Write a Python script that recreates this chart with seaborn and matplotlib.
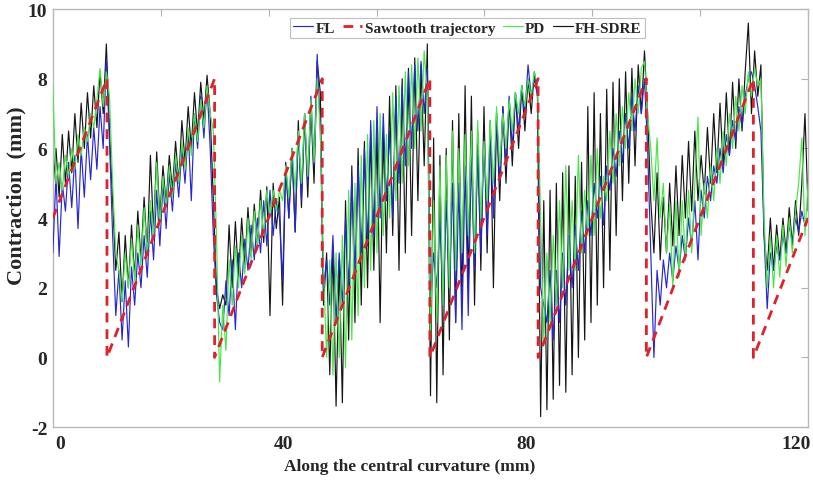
import numpy as np
import pandas as pd
import matplotlib
matplotlib.use('Agg')
import matplotlib.pyplot as plt
import seaborn as sns

# samples every 0.5 mm along the central curvature, 0 .. 120 mm
step = 0.5

# FL controller (blue)
fl = [3.0, 5.2, 2.9, 5.0, 4.2, 5.6, 4.3, 5.8, 3.7, 6.0, 4.6, 6.4, 5.1, 6.6, 5.4, 7.2, 6.0, 8.6, 6.2, 3.5,
      1.2, 2.5, 0.5, 2.2, 0.3, 2.6, 1.5, 3.0, 2.0, 3.5, 2.3, 4.2, 2.8, 4.8, 3.2, 5.0, 3.7, 5.3, 4.2, 5.6,
      4.6, 6.0, 5.0, 6.5, 4.5, 7.0, 6.0, 7.5, 6.3, 7.8, 6.0, 3.5, 1.8, 1.0, 0.8, 2.2, 1.2, 2.8, 0.8, 3.0,
      2.0, 3.4, 2.5, 3.8, 2.8, 4.0, 3.0, 4.5, 3.2, 4.8, 3.5, 4.5, 4.0, 2.2, 5.5, 4.0, 6.0, 3.6, 6.5, 4.5,
      7.0, 5.0, 7.5, 5.5, 8.7, 6.5, 2.0, 2.8, 1.5, 3.5, 1.0, 3.0, 1.5, 4.0, 2.0, 5.2, 2.5, 5.5, 3.0, 6.0,
      3.2, 6.8, 3.5, 7.2, 4.0, 7.0, 4.5, 6.5, 4.0, 7.5, 5.0, 7.8, 5.5, 8.2, 6.0, 8.4, 6.5, 8.5, 7.0, 8.3,
      1.5, 3.0, 2.0, 4.0, 1.5, 4.5, 2.0, 5.0, 1.0, 5.0, 0.8, 5.5, 1.2, 5.8, 2.5, 6.0, 3.0, 6.2, 3.5, 6.5,
      4.0, 7.0, 5.0, 7.2, 5.5, 7.5, 6.0, 7.6, 6.5, 7.8, 7.0, 8.4, 7.5, 8.0, 7.5, 2.0, 1.5, 1.0, 2.5, 0.5,
      2.5, 1.0, 3.0, 1.5, 3.5, 2.0, 3.8, 2.5, 4.2, 3.0, 4.5, 3.5, 5.0, 4.0, 5.2, 3.8, 5.5, 4.8, 6.0, 5.2,
      6.5, 5.6, 7.0, 6.0, 7.5, 6.5, 7.8, 7.0, 8.0, 6.0, 3.0, 0.0, 2.5, 1.5, 2.8, 2.0, 3.0, 2.2, 3.2, 2.5,
      3.5, 2.8, 4.0, 3.2, 4.5, 2.8, 4.8, 4.0, 5.2, 4.5, 5.5, 5.0, 6.0, 5.3, 6.4, 5.8, 6.8, 6.2, 7.2, 6.6,
      7.5, 8.0, 8.2, 7.8, 7.2, 6.5, 3.5, 1.4, 3.0, 2.5, 3.2, 2.8, 3.5, 3.0, 3.8, 3.3, 4.0, 3.6, 4.2, 3.8,
      4.0]

# PD controller (green)
pd_ctrl = [7.8, 5.0, 5.6, 4.8, 5.8, 5.2, 6.0, 5.4, 6.4, 5.8, 6.6, 6.2, 7.0, 6.6, 7.4, 8.3, 7.2, 8.2, 7.5, 5.0,
           3.0, 2.5, 1.6, 3.0, 2.0, 3.4, 2.2, 3.8, 2.6, 4.3, 3.0, 4.5, 3.5, 5.6, 3.8, 5.2, 4.3, 5.5, 4.6, 5.8,
           5.0, 6.2, 5.4, 6.6, 5.8, 7.0, 6.2, 7.4, 6.6, 7.8, 7.0, 6.5, 3.5, -0.7, 1.5, 0.2, 2.8, 1.5, 3.2, 2.0,
           3.5, 2.4, 4.0, 2.8, 4.2, 3.2, 4.5, 3.5, 4.8, 4.0, 4.8, 4.2, 4.8, 4.5, 5.5, 4.6, 6.0, 4.8, 6.5, 5.0,
           7.0, 5.2, 7.4, 5.6, 8.0, 6.5, 2.5, 0.0, 2.8, -0.5, 3.0, 0.0, 3.5, -0.3, 4.8, 0.5, 5.0, 1.2, 5.8, 2.0,
           6.4, 2.5, 6.8, 3.0, 7.0, 3.5, 6.4, 4.0, 7.6, 4.5, 7.8, 5.0, 8.2, 5.5, 8.4, 6.0, 8.6, 6.5, 8.8, 7.5,
           0.5, 4.5, 1.0, 5.5, 1.5, 5.8, 2.0, 6.5, 2.5, 6.0, 3.0, 6.4, 3.5, 6.5, 3.0, 6.8, 4.0, 6.2, 4.5, 6.8,
           5.0, 7.2, 5.5, 7.0, 6.0, 7.4, 6.5, 7.6, 7.0, 7.8, 7.2, 8.0, 7.5, 8.2, 7.8, 4.0, 0.5, 3.0, 1.0, 3.5,
           1.5, 4.5, 2.0, 5.5, 2.5, 4.5, 2.5, 5.8, 3.0, 4.8, 3.5, 5.8, 3.5, 6.0, 4.0, 5.2, 4.5, 6.5, 5.0, 7.0,
           5.5, 7.2, 6.0, 7.6, 6.5, 8.0, 7.0, 8.3, 8.5, 7.0, 6.0, 4.5, 6.3, 4.0, 5.0, 3.0, 4.4, 2.0, 4.5, 2.3,
           4.5, 2.8, 4.8, 3.0, 5.0, 6.9, 3.5, 5.0, 4.0, 5.5, 4.5, 6.0, 5.0, 6.5, 5.5, 7.0, 6.0, 7.5, 6.5, 7.8,
           7.0, 8.2, 7.5, 8.3, 7.8, 8.0, 4.0, 2.0, 3.5, 2.0, 3.5, 2.3, 3.8, 2.6, 4.0, 3.0, 4.2, 5.0, 6.3, 3.5,
           5.0]

# FH-SDRE controller (black)
fh_sdre = [4.8, 6.0, 4.6, 6.4, 5.0, 6.5, 5.3, 7.0, 5.6, 7.3, 6.0, 7.6, 6.3, 7.8, 6.6, 8.2, 7.0, 9.0, 6.5, 4.5,
           2.5, 3.6, 1.6, 3.5, 2.0, 3.8, 2.3, 4.2, 2.8, 4.6, 3.0, 5.8, 3.6, 5.9, 4.0, 5.5, 4.4, 5.8, 4.8, 6.2,
           5.0, 6.8, 5.6, 7.2, 6.0, 7.6, 6.4, 7.9, 6.8, 8.1, 7.0, 4.5, 2.0, 1.4, 1.8, 1.5, 3.8, 2.0, 3.9, 2.3,
           4.0, 2.6, 4.3, 2.9, 4.4, 3.2, 4.8, 3.3, 4.9, 1.2, 5.0, 3.7, 4.6, 1.5, 5.6, 4.0, 6.0, 3.6, 6.8, 4.3,
           7.0, 4.6, 7.2, 5.0, 8.5, 7.6, 1.5, 3.0, -0.5, 3.2, -1.4, 2.8, -1.3, 4.5, 0.5, 5.5, 1.0, 6.0, 1.5, 6.2,
           2.0, 6.5, 2.5, 6.6, 1.0, 6.5, 3.0, 7.5, 3.5, 7.8, 2.5, 8.0, 3.0, 8.3, 3.5, 8.6, 4.5, 8.4, 5.5, 9.0,
           -1.1, 6.3, -1.3, 5.8, -0.5, 6.0, 0.5, 6.8, 1.0, 7.0, 1.5, 7.8, 2.0, 7.5, 1.5, 6.5, 2.5, 7.2, 3.0, 6.8,
           2.0, 7.0, 4.5, 7.2, 5.0, 7.4, 5.5, 7.6, 6.0, 7.8, 6.5, 8.0, 7.0, 8.2, 7.6, -1.7, 4.5, -1.5, 4.8, -1.2,
           5.0, -0.8, 5.3, -1.0, 5.5, -0.5, 5.2, 0.0, 5.6, 0.5, 7.2, 1.0, 7.6, 1.5, 7.0, 2.0, 7.7, 2.5, 7.9, 3.5,
           8.0, 4.5, 8.2, 5.0, 8.3, 5.5, 8.4, 7.0, 8.8, 7.0, 4.5, 3.0, 5.3, 2.8, 4.6, 3.0, 5.0, 3.2, 5.5, 3.5,
           5.8, 4.0, 6.2, 4.2, 6.5, 4.5, 5.8, 4.7, 6.6, 5.0, 7.0, 5.3, 7.3, 5.5, 7.6, 5.8, 7.9, 6.0, 8.0, 6.5,
           8.2, 9.6, 7.0, 8.8, 7.5, 8.4, 3.5, 2.5, 4.0, 2.5, 3.8, 2.8, 4.0, 3.0, 4.3, 3.2, 4.5, 3.5, 5.0, 7.0,
           4.2]

# sawtooth reference trajectory (vertices)
saw_x = [0, 8.6, 8.6, 25.7, 25.7, 42.8, 42.8, 59.9, 59.9, 77.1, 77.1, 94.3, 94.3, 111.3, 111.3, 120]
saw_y = [4.0, 8.0, 0.0, 8.0, 0.0, 8.0, 0.0, 8.0, 0.0, 8.0, 0.0, 8.0, 0.0, 8.0, 0.0, 4.0]

# tick marks sit every 120/7 mm; the printed labels are placed off the marks in the original
xtick_marks = np.linspace(0, 120, 8)
xlabel_pos = [1.1, 36.7, 75.2, 118.1]
xlabel_txt = ['0', '40', '80', '120']

x = np.arange(len(fh_sdre)) * step
df = pd.DataFrame({'x': x, 'FL': fl, 'PD': pd_ctrl, 'FH-SDRE': fh_sdre})
saw = pd.DataFrame({'x': saw_x, 'y': saw_y})

sns.set_theme(style='white')
plt.rcParams['font.family'] = ['Liberation Serif', 'DejaVu Serif']
plt.rcParams['font.weight'] = 'bold'
plt.rcParams['axes.unicode_minus'] = False

fig = plt.figure(figsize=(8.13, 4.81), dpi=100)
ax = fig.add_axes([0.065, 0.110, 0.929, 0.869])

sns.lineplot(data=df, x='x', y='FH-SDRE', ax=ax, color='#151515', lw=0.85,
             estimator=None, sort=False, label='FH-SDRE', zorder=2)
sns.lineplot(data=df, x='x', y='FL', ax=ax, color='#2626d4', lw=0.85,
             estimator=None, sort=False, label='FL', zorder=3)
sns.lineplot(data=df, x='x', y='PD', ax=ax, color='#45e845', lw=0.85,
             estimator=None, sort=False, label='PD', zorder=4)
sns.lineplot(data=saw, x='x', y='y', ax=ax, color='#e0202a', lw=2.0,
             estimator=None, sort=False, label='Sawtooth trajectory', zorder=5)
ax.lines[-1].set_dashes([3.5, 2.5])

ax.set_xlim(0, 120)
ax.set_ylim(-2, 10)
ax.set_xticks(xtick_marks)
ax.set_xticklabels([''] * len(xtick_marks))
ax.set_xticks(xlabel_pos, minor=True)
ax.set_xticklabels(xlabel_txt, minor=True)
ax.set_yticks([-2, 0, 2, 4, 6, 8, 10])
ax.tick_params(which='major', direction='in', top=True, right=True, length=5, width=0.8,
               color='#b0b0b0', labelsize=14)
ax.tick_params(axis='y', pad=4)
ax.tick_params(axis='x', which='minor', length=0, labelsize=14, pad=6)
for lab in ax.get_xticklabels(minor=True) + ax.get_yticklabels():
    lab.set_fontweight('bold')
for s in ax.spines.values():
    s.set_color('#b8b8b8')
    s.set_linewidth(1.0)

ax.set_xlabel('Along the central curvature (mm)', fontsize=12.5, fontweight='bold')
ax.xaxis.set_label_coords(0.473, -0.073)
ax.set_ylabel('Contraction  (mm)', fontsize=16, fontweight='bold')
ax.yaxis.set_label_coords(-0.035, 0.557)

h, l = ax.get_legend_handles_labels()
order = [l.index(n) for n in ['FL', 'Sawtooth trajectory', 'PD', 'FH-SDRE']]
leg = ax.legend([h[i] for i in order], [l[i] for i in order], ncol=4,
                loc='upper center', bbox_to_anchor=(0.549, 0.979),
                prop={'weight': 'bold', 'size': 11}, frameon=True, fancybox=False,
                handlelength=1.3, handletextpad=0.15, columnspacing=0.5,
                borderpad=0.2, borderaxespad=0)
leg.get_frame().set_edgecolor('#b0b0b0')
leg.get_frame().set_linewidth(0.8)

fig.savefig('out.png', dpi=100)
